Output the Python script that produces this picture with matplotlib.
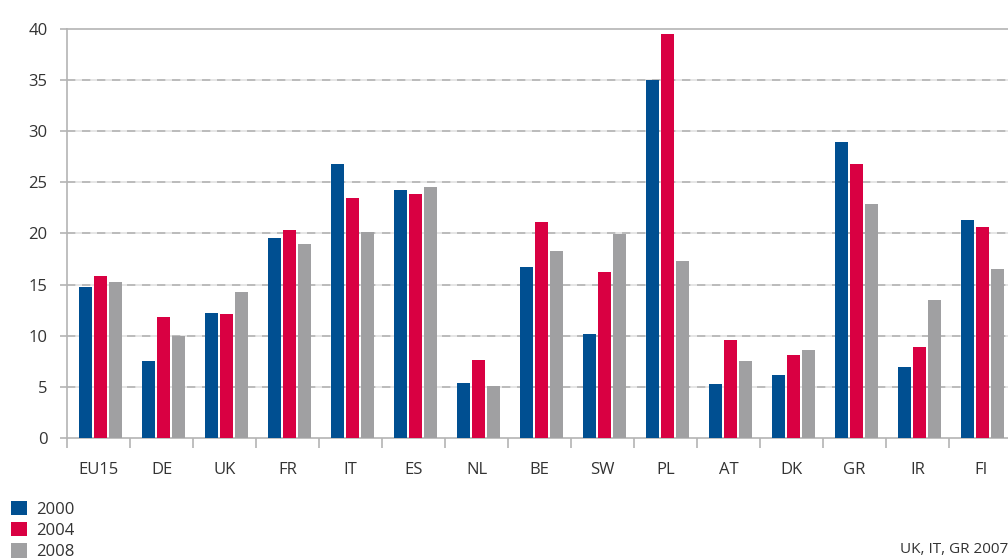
import numpy as np
import matplotlib
matplotlib.use("Agg")
import matplotlib.pyplot as plt
from matplotlib.patches import Patch

countries = ["EU15", "DE", "UK", "FR", "IT", "ES", "NL", "BE", "SW", "PL", "AT", "DK", "GR", "IR", "FI"]
years = ["2000", "2004", "2008"]
v2000 = [14.8, 7.55, 12.25, 19.55, 26.8, 24.25, 5.4, 16.7, 10.2, 35.0, 5.3, 6.2, 28.95, 6.95, 21.3]
v2004 = [15.85, 11.85, 12.15, 20.35, 23.45, 23.85, 7.65, 21.15, 16.25, 39.5, 9.6, 8.15, 26.8, 8.9, 20.6]
v2008 = [15.25, 10.0, 14.3, 18.95, 20.15, 24.55, 5.1, 18.3, 19.95, 17.3, 7.55, 8.6, 22.9, 13.5, 16.5]
colors = ["#004f91", "#d90042", "#a0a0a2"]
note = "UK, IT, GR 2007"

plt.rcParams['font.family'] = ['Open Sans', 'DejaVu Sans']

fig = plt.figure(figsize=(10.08, 5.59), dpi=100)
ax = fig.add_axes([0.0665, 0.216, 0.9375, 0.7328])

x = np.arange(len(countries))
w = 0.206
pitch = 0.238
for i, (vals, c) in enumerate(zip([v2000, v2004, v2008], colors)):
    ax.bar(x + 0.03 + (i - 1) * pitch, vals, width=w, color=c, zorder=3)

ax.set_xlim(-0.5, len(countries) - 0.5)
ax.set_ylim(0, 40)
ax.set_yticks(range(0, 41, 5))
ax.set_xticks(x)
ax.set_xticklabels(countries)
ax.set_xticks(np.arange(-0.5, len(countries), 1), minor=True)

# gridlines: light solid line under a darker dash
for yv in range(5, 40, 5):
    ax.axhline(yv, color="#e2e2e2", lw=1.2, zorder=1)
    ax.axhline(yv, color="#b4b4b4", lw=1.2, ls=(0, (5, 4)), zorder=2)

for s in ["left", "bottom", "top"]:
    ax.spines[s].set_color("#b4b4b4")
    ax.spines[s].set_linewidth(1.2)
ax.spines["right"].set_visible(False)

ax.tick_params(axis="x", which="major", length=0, pad=17, labelsize=12, labelcolor="#333333")
ax.tick_params(axis="x", which="minor", length=7, color="#b4b4b4", width=1.2)
ax.tick_params(axis="y", length=5, color="#b4b4b4", width=1.2, pad=9, labelsize=12, labelcolor="#333333")

handles = [Patch(facecolor=c, edgecolor="none") for c in colors]
fig.legend(handles, years, loc="upper left", bbox_to_anchor=(0.011, 0.1045),
           frameon=False, fontsize=12, handlelength=0.95, handleheight=0.95,
           handletextpad=0.55, labelspacing=0.27, borderaxespad=0, borderpad=0,
           labelcolor="#333333")

fig.text(900 / 1008, 0.003, note, fontsize=11, color="#333333", ha="left", va="bottom")

fig.savefig("out.png", dpi=100)
